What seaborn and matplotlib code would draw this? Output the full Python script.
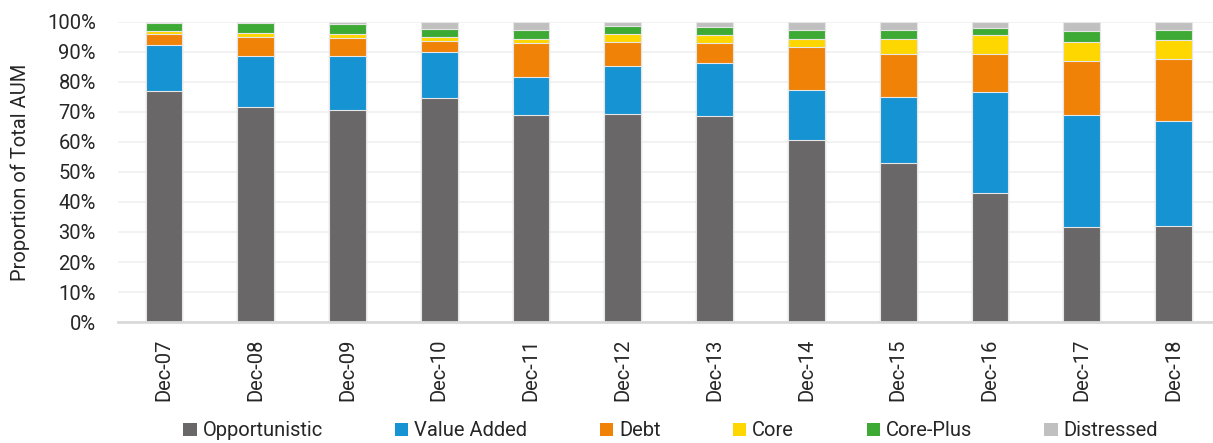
import matplotlib
matplotlib.use("Agg")
import matplotlib.pyplot as plt
from matplotlib.patches import Patch
from matplotlib.ticker import FuncFormatter, MultipleLocator
import numpy as np
import seaborn as sns

periods = ["Dec-07", "Dec-08", "Dec-09", "Dec-10", "Dec-11", "Dec-12",
           "Dec-13", "Dec-14", "Dec-15", "Dec-16", "Dec-17", "Dec-18"]

opportunistic = [76.9, 71.6, 70.5, 74.7, 68.9, 69.3, 68.6, 60.6, 52.9, 42.9, 31.7, 32.1]
value_added   = [15.3, 17.2, 18.3, 15.2, 12.9, 16.0, 17.6, 16.7, 22.1, 33.7, 37.2, 35.0]
debt          = [3.8, 6.3, 5.9, 3.9, 11.1, 7.9, 6.7, 14.5, 14.4, 12.8, 18.2, 20.5]
core          = [1.1, 1.3, 1.3, 1.3, 1.3, 2.8, 2.7, 2.5, 4.9, 6.2, 6.2, 6.5]
core_plus     = [2.7, 3.4, 3.3, 2.7, 3.1, 2.7, 2.6, 3.0, 3.0, 2.5, 3.7, 3.2]
distressed    = [0.2, 0.2, 0.7, 2.2, 2.7, 1.3, 1.8, 2.7, 2.7, 1.9, 3.0, 2.7]

series_names = ["Opportunistic", "Value Added", "Debt", "Core", "Core-Plus", "Distressed"]
series_values = [opportunistic, value_added, debt, core, core_plus, distressed]
series_colors = ["#696767", "#1593D3", "#F08307", "#FFD700", "#3DAA35", "#C0C0C0"]

sns.set_theme(style="white")
plt.rcParams["font.family"] = ["Roboto", "DejaVu Sans"]
text_color = "#262626"
fs = 14.5

fig = plt.figure(figsize=(12.13, 4.43), dpi=100)
ax = fig.add_axes([118 / 1213, 1 - 322 / 443, (1213 - 118) / 1213, 300 / 443])

# Stacked bars: draw cumulative totals from the top segment down
cumulative = np.cumsum(np.array(series_values), axis=0)
for i in range(len(series_names) - 1, -1, -1):
    sns.barplot(x=periods, y=cumulative[i], color=series_colors[i], width=0.4,
                edgecolor="#E6E6E6", linewidth=0.8, saturation=1, ax=ax)

ax.set_ylim(0, 100)
ax.set_xlim(-0.5, 11.43)
ax.yaxis.set_major_locator(MultipleLocator(10))
ax.yaxis.set_major_formatter(FuncFormatter(lambda v, _: f"{v:.0f}%"))
ax.grid(axis="y", color="#F0F0F0", linewidth=1.2)
ax.set_axisbelow(True)
for side in ["top", "right", "left"]:
    ax.spines[side].set_visible(False)
ax.spines["bottom"].set_color("#D9D9D9")
ax.spines["bottom"].set_linewidth(2)

ax.tick_params(axis="y", labelsize=fs, colors=text_color, length=0, pad=16)
ax.tick_params(axis="x", labelsize=fs, colors=text_color, length=0, pad=12, rotation=90)
ax.set_xlabel("")
ax.set_ylabel("Proportion of Total AUM", fontsize=fs, color=text_color, labelpad=12)

handles = [Patch(facecolor=c, edgecolor="none", label=n)
           for n, c in zip(series_names, series_colors)]
fig.legend(handles=handles, loc="lower center", bbox_to_anchor=(0.553, -0.035),
           ncol=6, frameon=False, fontsize=fs, labelcolor=text_color,
           handlelength=0.65, handleheight=0.65, handletextpad=0.3, columnspacing=3.6)

fig.savefig("out.png", dpi=100)
